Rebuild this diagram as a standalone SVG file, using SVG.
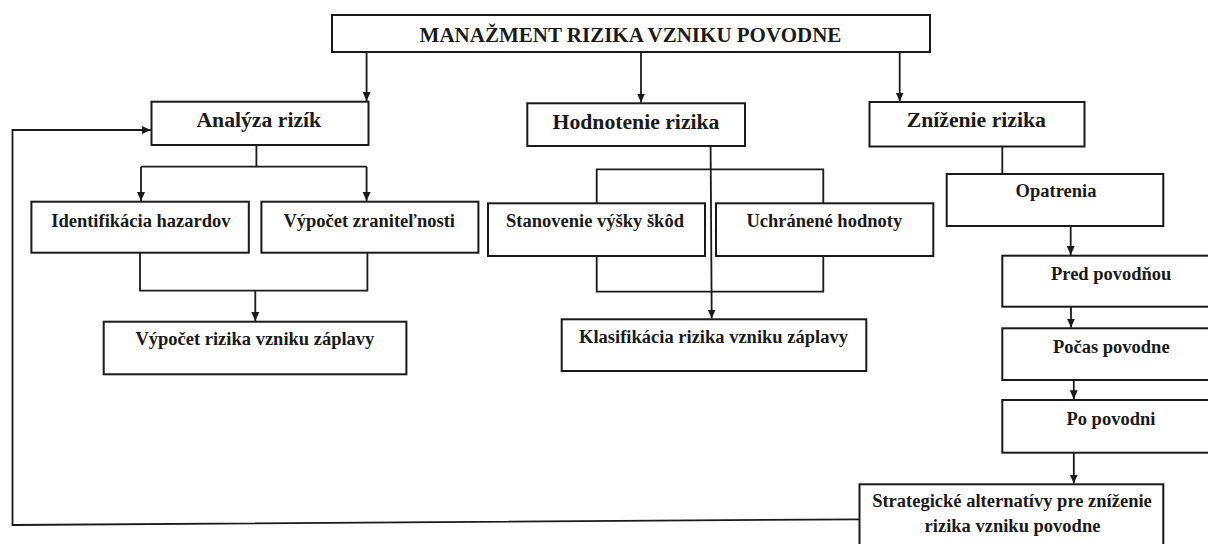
<svg xmlns="http://www.w3.org/2000/svg" width="1208" height="544" viewBox="0 0 1208 544">
<style>
.box{fill:#fff;stroke:#1a1a1a;stroke-width:2}
.ln{fill:none;stroke:#1a1a1a;stroke-width:1.8}
.t{font-family:"Liberation Serif","Times New Roman",serif;font-weight:bold;fill:#1a1a1a;text-anchor:middle}
.t0{font-size:21px}
.t2{font-size:21.7px}
.t3{font-size:18.5px}
</style>
<defs>
<marker id="ah" markerUnits="userSpaceOnUse" markerWidth="10" markerHeight="10" refX="9" refY="4" orient="auto">
<path d="M0,0 L9,4 L0,8 z" fill="#1a1a1a"/>
</marker>
</defs>
<rect width="1208" height="544" fill="#fff"/>
<g id="connectors">
<path class="ln" d="M366.6,52 V101" marker-end="url(#ah)"/>
<path class="ln" d="M641,52 V102.5" marker-end="url(#ah)"/>
<path class="ln" d="M899.7,52 V101.5" marker-end="url(#ah)"/>
<path class="ln" d="M256.4,145 V166.7 M141,166.7 H366.6"/>
<path class="ln" d="M141,166.7 V201" marker-end="url(#ah)"/>
<path class="ln" d="M366.6,166.7 V201" marker-end="url(#ah)"/>
<path class="ln" d="M140,252.7 V290.7 H367.4 V252.7"/>
<path class="ln" d="M255.3,290.7 V321" marker-end="url(#ah)"/>
<path class="ln" d="M710.6,146 L711.7,318.6" marker-end="url(#ah)"/>
<path class="ln" d="M596.7,203.3 V169.3 H823.3 V203.3"/>
<path class="ln" d="M596.7,256 V291.7 H823.3 V256"/>
<path class="ln" d="M1002.3,146.5 V174"/>
<path class="ln" d="M1070.7,226 V255" marker-end="url(#ah)"/>
<path class="ln" d="M1071,306.7 V327.6" marker-end="url(#ah)"/>
<path class="ln" d="M1073.8,380 V399.3" marker-end="url(#ah)"/>
<path class="ln" d="M1073.8,452.7 V483.6" marker-end="url(#ah)"/>
<path class="ln" d="M859.5,519.3 L12.5,525 V130 H150.8" marker-end="url(#ah)"/>
</g>
<g id="n-top"><rect class="box" x="332" y="15" width="598" height="37"/><text class="t t0" x="630.5" y="41.5">MANAŽMENT RIZIKA VZNIKU POVODNE</text></g>
<g id="n-analyza"><rect class="box" x="151.5" y="101.7" width="217" height="43.3"/><text class="t t2" x="258.8" y="126.7">Analýza rizík</text></g>
<g id="n-hodnotenie"><rect class="box" x="527.3" y="103.3" width="217.7" height="42.7"/><text class="t t2" x="636" y="129.3">Hodnotenie rizika</text></g>
<g id="n-znizenie"><rect class="box" x="869.5" y="102" width="215" height="44.5"/><text class="t t2" x="976.3" y="126.5">Zníženie rizika</text></g>
<g id="n-identifikacia"><rect class="box" x="31.4" y="201.7" width="217.4" height="51"/><text class="t t3" x="140.9" y="226.7">Identifikácia hazardov</text></g>
<g id="n-zranitelnost"><rect class="box" x="261.4" y="201.7" width="217" height="51"/><text class="t t3" x="369.2" y="226.7">Výpočet zraniteľnosti</text></g>
<g id="n-stanovenie"><rect class="box" x="488" y="203.3" width="217" height="52.7"/><text class="t t3" x="595" y="226.7">Stanovenie výšky škôd</text></g>
<g id="n-uchranene"><rect class="box" x="716" y="203.3" width="217.3" height="52.7"/><text class="t t3" x="824.3" y="226.7">Uchránené hodnoty</text></g>
<g id="n-opatrenia"><rect class="box" x="946.7" y="174" width="216.6" height="52"/><text class="t t3" x="1056" y="197.3">Opatrenia</text></g>
<g id="n-vypocet-rizika"><rect class="box" x="103.7" y="321.7" width="302.7" height="52.6"/><text class="t t3" x="254.9" y="345">Výpočet rizika vzniku záplavy</text></g>
<g id="n-klasifikacia"><rect class="box" x="561.7" y="319.3" width="304.6" height="51.7"/><text class="t t3" x="713.5" y="343.3">Klasifikácia rizika vzniku záplavy</text></g>
<g id="n-pred"><rect class="box" x="1002.3" y="255.7" width="220" height="51"/><text class="t t3" x="1111.2" y="280">Pred povodňou</text></g>
<g id="n-pocas"><rect class="box" x="1002.3" y="328.3" width="220" height="51.7"/><text class="t t3" x="1111.3" y="353.3">Počas povodne</text></g>
<g id="n-po"><rect class="box" x="1002.3" y="400" width="220" height="52.7"/><text class="t t3" x="1110.9" y="425">Po povodni</text></g>
<g id="n-strategicke"><rect class="box" x="859.5" y="484.3" width="303.8" height="68"/><text class="t t3" x="1012" y="506.7">Strategické alternatívy pre zníženie</text><text class="t t3" x="1012.5" y="531.7">rizika vzniku povodne</text></g>
</svg>
